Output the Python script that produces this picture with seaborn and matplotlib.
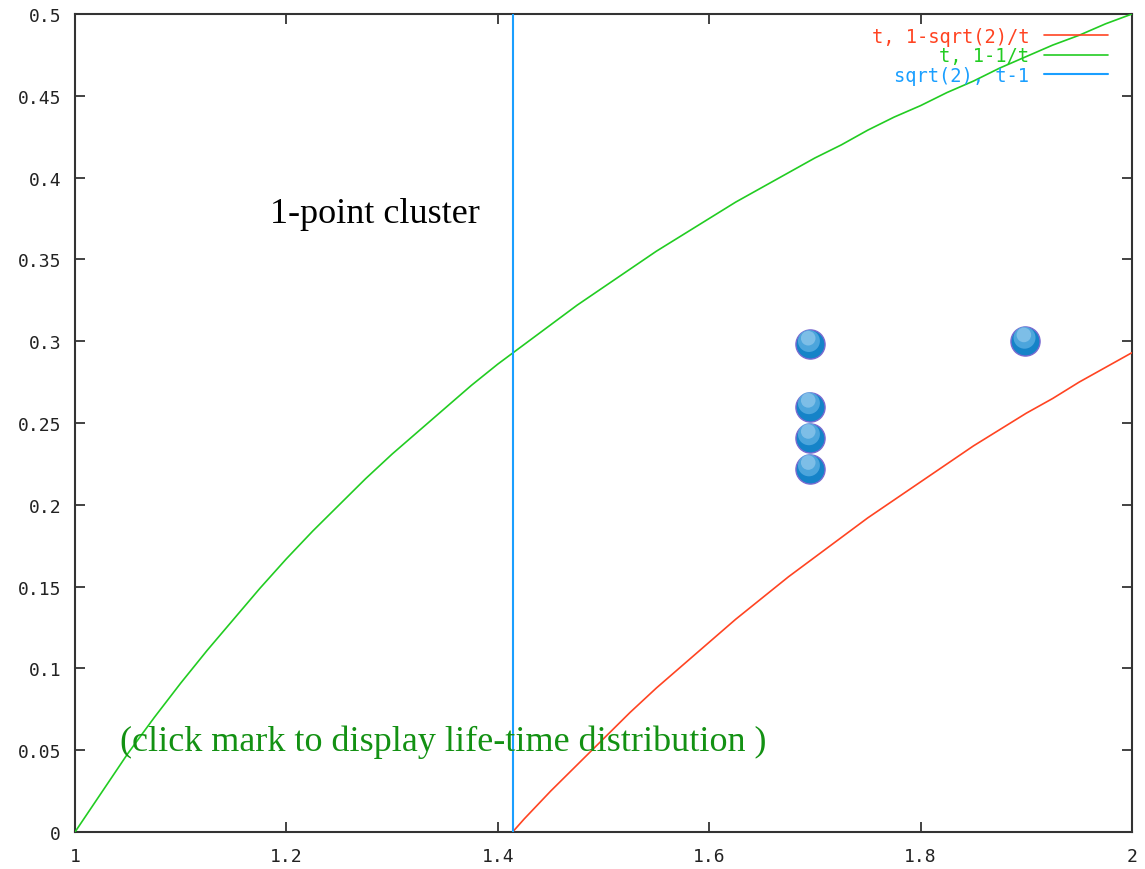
import numpy as np
import pandas as pd
import matplotlib
matplotlib.use("Agg")
import matplotlib.pyplot as plt
import matplotlib.transforms as mtransforms
import seaborn as sns

# ---- data ----
t_green = [1.000, 1.025, 1.050, 1.075, 1.100, 1.125, 1.150, 1.175, 1.200, 1.225, 1.250,
           1.275, 1.300, 1.325, 1.350, 1.375, 1.400, 1.425, 1.450, 1.475, 1.500,
           1.525, 1.550, 1.575, 1.600, 1.625, 1.650, 1.675, 1.700, 1.725, 1.750,
           1.775, 1.800, 1.825, 1.850, 1.875, 1.900, 1.925, 1.950, 1.975, 2.000]
y_green = [0.000, 0.024, 0.048, 0.070, 0.091, 0.111, 0.130, 0.149, 0.167, 0.184, 0.200,
           0.216, 0.231, 0.245, 0.259, 0.273, 0.286, 0.298, 0.310, 0.322, 0.333,
           0.344, 0.355, 0.365, 0.375, 0.385, 0.394, 0.403, 0.412, 0.420, 0.429,
           0.437, 0.444, 0.452, 0.459, 0.467, 0.474, 0.481, 0.487, 0.494, 0.500]
t_red = [1.414, 1.425, 1.450, 1.475, 1.500, 1.525, 1.550, 1.575, 1.600, 1.625, 1.650,
         1.675, 1.700, 1.725, 1.750, 1.775, 1.800, 1.825, 1.850, 1.875, 1.900,
         1.925, 1.950, 1.975, 2.000]
y_red = [0.000, 0.008, 0.025, 0.041, 0.057, 0.073, 0.088, 0.102, 0.116, 0.130, 0.143,
         0.156, 0.168, 0.180, 0.192, 0.203, 0.214, 0.225, 0.236, 0.246, 0.256,
         0.265, 0.275, 0.284, 0.293]
x_blue = 1.4142
mark_x = [1.695, 1.695, 1.695, 1.695, 1.899]
mark_y = [0.298, 0.260, 0.241, 0.222, 0.300]
labels = ["t, 1-sqrt(2)/t", "t, 1-1/t", "sqrt(2), t-1"]
xticks = [1, 1.2, 1.4, 1.6, 1.8, 2]
xticklabels = ["1", "1.2", "1.4", "1.6", "1.8", "2"]
yticks = [0, 0.05, 0.1, 0.15, 0.2, 0.25, 0.3, 0.35, 0.4, 0.45, 0.5]
yticklabels = ["0", "0.05", "0.1", "0.15", "0.2", "0.25", "0.3", "0.35", "0.4", "0.45", "0.5"]

sns.set_style("white")
plt.rcParams["font.family"] = ["DejaVu Sans Mono"]

RED, GREEN, BLUE = "#ff4422", "#22cc22", "#1a9fff"

fig = plt.figure(figsize=(11.45, 8.7), dpi=100)
ax = fig.add_axes([75 / 1145, 37 / 870, 1057 / 1145, 818 / 870])

df_r = pd.DataFrame({"t": t_red, "v": y_red})
df_g = pd.DataFrame({"t": t_green, "v": y_green})
sns.lineplot(data=df_r, x="t", y="v", ax=ax, color=RED, lw=1.2, label=labels[0], zorder=3)
sns.lineplot(data=df_g, x="t", y="v", ax=ax, color=GREEN, lw=1.2, label=labels[1], zorder=3)
ax.axvline(x_blue, color=BLUE, lw=1.5, label=labels[2], zorder=3)

# glossy balls
df_m = pd.DataFrame({"x": mark_x, "y": mark_y})
sns.scatterplot(data=df_m, x="x", y="y", ax=ax, s=440, color="#1583c8",
                edgecolor="#7a6ad0", linewidth=1.0, zorder=5, legend=False)
hl = mtransforms.offset_copy(ax.transData, fig=fig, x=-0.5, y=2.5, units="points")
ax.scatter(mark_x, mark_y, s=250, color="#5aaee2", edgecolor="none", zorder=6,
           transform=hl, alpha=0.8)
hl2 = mtransforms.offset_copy(ax.transData, fig=fig, x=-1, y=4.5, units="points")
ax.scatter(mark_x, mark_y, s=110, color="#9fd0f0", edgecolor="none", zorder=7,
           transform=hl2, alpha=0.6)

ax.set_xlim(1, 2)
ax.set_ylim(0, 0.5)
ax.set_xticks(xticks)
ax.set_xticklabels(xticklabels)
ax.set_yticks(yticks)
ax.set_yticklabels(yticklabels)
ax.set_xlabel("")
ax.set_ylabel("")
ax.tick_params(direction="in", length=7, width=1.2, labelsize=13, colors="#222222",
               top=True, right=True, bottom=True, left=True)
ax.tick_params(axis="x", pad=11)
ax.tick_params(axis="y", pad=10)
for s in ax.spines.values():
    s.set_color("#333333")
    s.set_linewidth(1.5)

leg = ax.legend(loc="upper right", bbox_to_anchor=(1 - 24 / 1057, 1 - 13 / 818),
                frameon=False, markerfirst=False, handlelength=3.4, handletextpad=0.8,
                labelspacing=0.02, borderaxespad=0, borderpad=0,
                prop={"family": "DejaVu Sans Mono", "size": 13.5},
                labelcolor="linecolor")

ax.text(1.1845, 0.378, "1-point cluster", family="Liberation Serif", fontsize=26,
        color="black", va="center", ha="left")
ax.text(1.0426, 0.0556, "(click mark to display life-time distribution )",
        family="Liberation Serif", fontsize=26, color="#139113", va="center", ha="left")

fig.savefig("out.png", dpi=100)
